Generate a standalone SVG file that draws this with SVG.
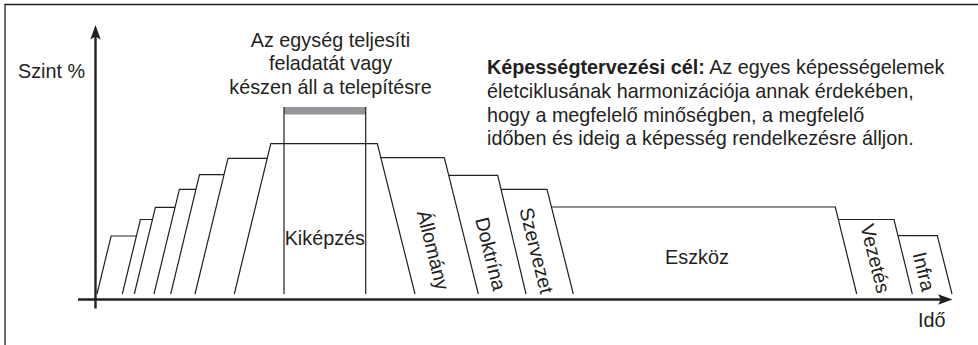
<svg xmlns="http://www.w3.org/2000/svg" width="978" height="345" viewBox="0 0 978 345">
  <style>
    .ln { fill: none; stroke: #231f20; stroke-width: 1.2; stroke-linejoin: miter; }
    .ax { fill: none; stroke: #231f20; stroke-width: 2.4; }
    .ah { fill: #231f20; stroke: none; }
    .t { font-family: "Liberation Sans", Arial, sans-serif; font-size: 19.8px; fill: #231f20; }
    .m { text-anchor: middle; }
    .b { font-weight: bold; }
  </style>
  <rect width="978" height="345" fill="#ffffff"/>
  <path id="frame" d="M5,345 V4.5 H978" fill="none" stroke="#231f20" stroke-width="1.3"/>

  <g id="axes">
    <line class="ax" x1="95.5" y1="308.5" x2="95.5" y2="34"/>
    <path class="ah" d="M95.5,25 L100.7,39.5 L95.5,36.5 L90.3,39.5 Z"/>
    <line class="ax" x1="78" y1="299.5" x2="943" y2="299.5"/>
    <path class="ah" d="M952.5,299.5 L938,304.7 L941,299.5 L938,294.3 Z"/>
    <text class="t" x="18" y="78">Szint %</text>
    <text class="t" x="918" y="326.5">Idő</text>
  </g>

  <g id="rising">
    <polyline class="ln" points="97,294 111.1,236 136.4,236"/>
    <polyline class="ln" points="122.3,294 140.4,219.5 152.4,219.5"/>
    <polyline class="ln" points="134.3,294 155.4,207.3 175.1,207.3"/>
    <polyline class="ln" points="154,294 179.4,189.3 196.1,189.3"/>
    <polyline class="ln" points="170.7,294 199.5,174.7 224,174.7"/>
    <polyline class="ln" points="195,294 228,158.3 267.3,158.3"/>
  </g>

  <g id="kikepzes">
    <polyline class="ln" points="234.3,294 270.8,143.7 377.3,143.7 415,294"/>
    <rect x="284" y="107" width="81.7" height="7.5" fill="#939598"/>
    <line class="ln" x1="284" y1="107" x2="284" y2="294"/>
    <line class="ln" x1="365.7" y1="107" x2="365.7" y2="294"/>
    <text class="t m" x="324.8" y="245">Kiképzés</text>
    <text class="t m" x="330.5" y="46.7">Az egység teljesíti</text>
    <text class="t m" x="330.5" y="70.4">feladatát vagy</text>
    <text class="t m" x="330.5" y="94">készen áll a telepítésre</text>
  </g>

  <g id="allomany">
    <polyline class="ln" points="380.8,157.7 444.3,157.7 478.3,294"/>
    <text class="t m" transform="translate(433.3,250) rotate(76)" x="0" y="7">Állomány</text>
  </g>
  <g id="doktrina">
    <polyline class="ln" points="448.7,175.3 497.7,175.3 526,294"/>
    <text class="t m" transform="translate(490.8,253.7) rotate(76)" x="0" y="7">Doktrína</text>
  </g>
  <g id="szervezet">
    <polyline class="ln" points="501,189.3 547,189.3 573.3,294"/>
    <text class="t m" transform="translate(536.7,250.5) rotate(76)" x="0" y="7">Szervezet</text>
  </g>
  <g id="eszkoz">
    <polyline class="ln" points="551.4,207 835.3,207 856.7,294"/>
    <text class="t m" x="697" y="264">Eszköz</text>
  </g>
  <g id="vezetes">
    <polyline class="ln" points="838.4,219.5 894,219.5 912.3,294"/>
    <text class="t m" transform="translate(875.5,258.5) rotate(76)" x="0" y="7">Vezetés</text>
  </g>
  <g id="infra">
    <polyline class="ln" points="898,235.7 937.3,235.7 952,294"/>
    <text class="t m" transform="translate(924,271.5) rotate(76)" x="0" y="7">Infra</text>
  </g>

  <g id="goal">
    <text class="t" x="487" y="74"><tspan class="b">Képességtervezési cél:</tspan> Az egyes képességelemek</text>
    <text class="t" x="487" y="97.8">életciklusának harmonizációja annak érdekében,</text>
    <text class="t" x="487" y="121.6">hogy a megfelelő minőségben, a megfelelő</text>
    <text class="t" x="487" y="145.4">időben és ideig a képesség rendelkezésre álljon.</text>
  </g>
</svg>
